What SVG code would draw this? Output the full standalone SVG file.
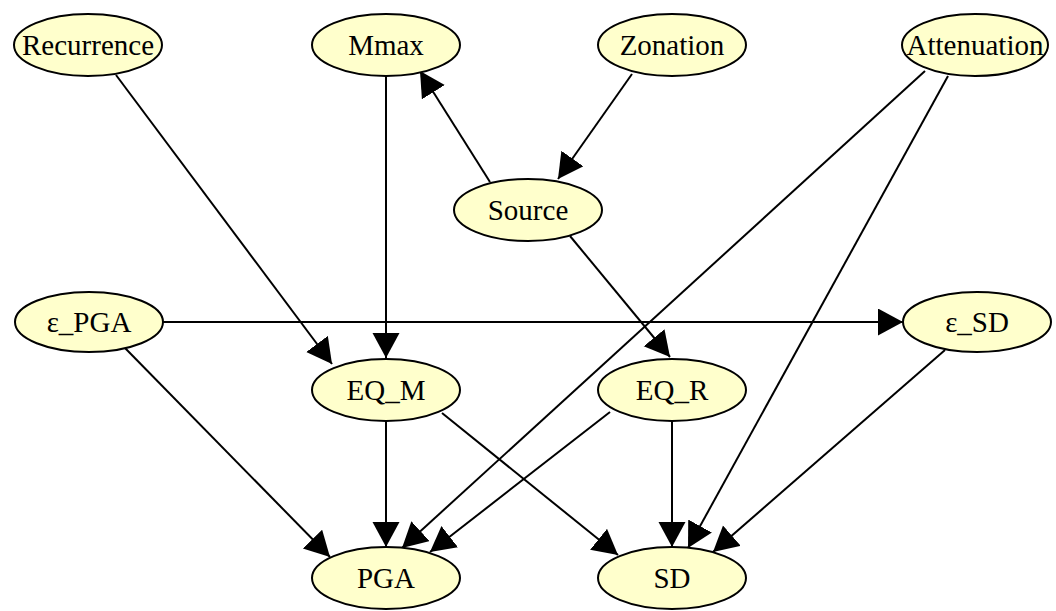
<svg xmlns="http://www.w3.org/2000/svg" width="1056" height="611" viewBox="0 0 1056 611">
  <style>
    .node ellipse { fill: #ffffcc; stroke: #000; stroke-width: 2; }
    .node text { font-family: 'Liberation Serif', 'Times New Roman', serif; font-size: 29px; fill: #000; text-anchor: middle; }
    .edges line { stroke: #000; stroke-width: 2; marker-end: url(#arrow); }
  </style>
  <defs>
    <marker id="arrow" markerUnits="userSpaceOnUse" markerWidth="27" markerHeight="28" refX="25" refY="13.5" orient="auto">
      <path d="M0,0 L25,13.5 L0,27 z" fill="#000"/>
    </marker>
  </defs>
  <rect width="1056" height="611" fill="#fff"/>

  <!-- connectors -->
  <g class="edges">
    <line x1="116" y1="75" x2="332" y2="364"/>
    <line x1="386" y1="77" x2="386" y2="358"/>
    <line x1="490" y1="182" x2="420" y2="71"/>
    <line x1="632" y1="74" x2="558" y2="179"/>
    <line x1="925" y1="71" x2="402" y2="548"/>
    <line x1="948" y1="76" x2="688" y2="548"/>
    <line x1="163" y1="322" x2="903" y2="322"/>
    <line x1="125" y1="348" x2="330" y2="557"/>
    <line x1="945" y1="350" x2="713" y2="552"/>
    <line x1="386" y1="421" x2="386" y2="547"/>
    <line x1="442" y1="413" x2="618" y2="555"/>
    <line x1="610" y1="412" x2="430" y2="552"/>
    <line x1="672" y1="421" x2="672" y2="547"/>
    <line x1="570" y1="236" x2="670" y2="357"/>
  </g>

  <!-- nodes -->
  <g id="recurrence" class="node"><ellipse cx="88" cy="45" rx="74" ry="31"/><text x="88" y="55">Recurrence</text></g>
  <g id="mmax" class="node"><ellipse cx="386" cy="45" rx="74" ry="31"/><text x="386" y="55">Mmax</text></g>
  <g id="zonation" class="node"><ellipse cx="672" cy="45" rx="74" ry="31"/><text x="672" y="55">Zonation</text></g>
  <g id="attenuation" class="node"><ellipse cx="975" cy="45" rx="73" ry="31"/><text x="975" y="55">Attenuation</text></g>
  <g id="source" class="node"><ellipse cx="528" cy="210" rx="74" ry="31"/><text x="528" y="220">Source</text></g>
  <g id="eps_pga" class="node"><ellipse cx="89" cy="322" rx="74" ry="30"/><text x="89" y="332">ε_PGA</text></g>
  <g id="eps_sd" class="node"><ellipse cx="977" cy="322" rx="74" ry="30"/><text x="977" y="332">ε_SD</text></g>
  <g id="eq_m" class="node"><ellipse cx="386" cy="390" rx="74" ry="31"/><text x="386" y="400">EQ_M</text></g>
  <g id="eq_r" class="node"><ellipse cx="672" cy="390" rx="74" ry="31"/><text x="672" y="400">EQ_R</text></g>
  <g id="pga" class="node"><ellipse cx="386" cy="578" rx="74" ry="31"/><text x="386" y="588">PGA</text></g>
  <g id="sd" class="node"><ellipse cx="672" cy="578" rx="74" ry="31"/><text x="672" y="588">SD</text></g>
</svg>
